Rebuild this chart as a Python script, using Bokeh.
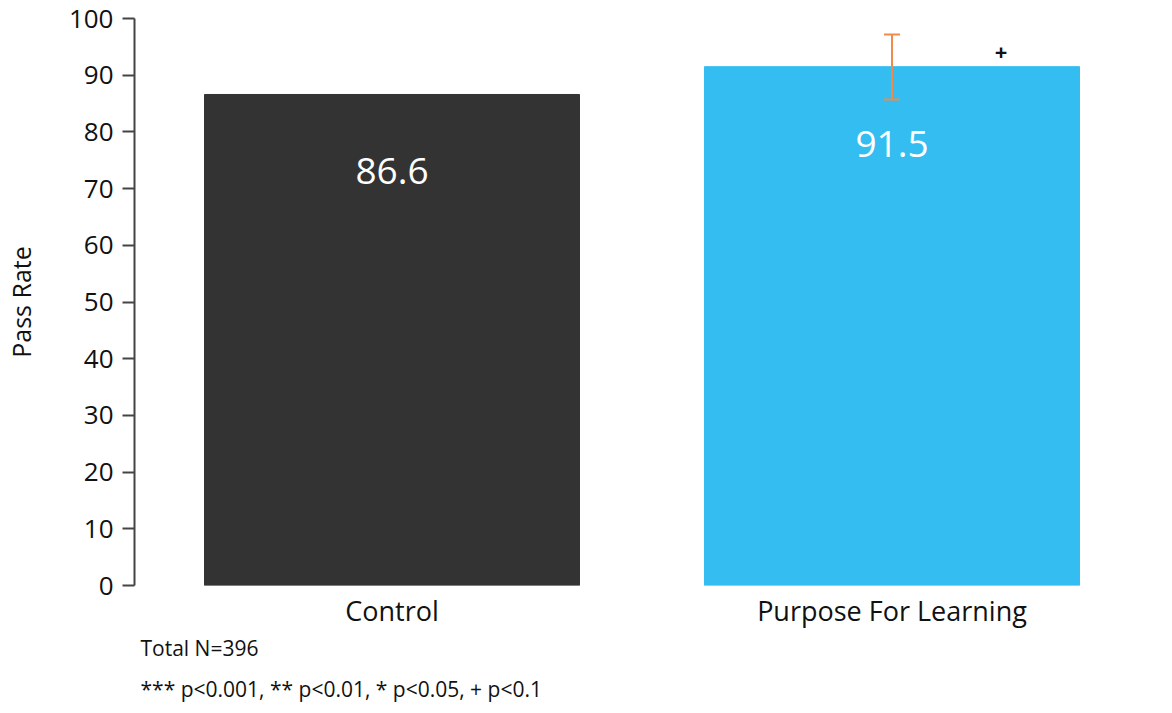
from bokeh.plotting import figure
from bokeh.models import ColumnDataSource, FixedTicker, Whisker, FactorRange, Title
from bokeh.core.properties import value
from bokeh.embed import file_html
from bokeh.resources import INLINE

# --- data ---
groups = ["Control", "Purpose For Learning"]
pass_rate = [86.6, 91.5]
bar_colors = ["#333333", "#33BDF0"]
err_group = ["Purpose For Learning"]
err_lower = [85.7]
err_upper = [97.2]
sig_group = ["Purpose For Learning"]
sig_marks = ["+"]
sig_y = [94.0]
y_ticks = [0, 10, 20, 30, 40, 50, 60, 70, 80, 90, 100]
footnotes = ["Total N=396", "*** p<0.001, ** p<0.01, * p<0.05, + p<0.1"]

FONT = "Open Sans"
INK = "#111111"

p = figure(
    x_range=FactorRange(*groups, range_padding=0.015),
    y_range=(0, 100),
    width=1172, height=713,
    output_backend="svg", toolbar_location=None,
    min_border_left=134, min_border_right=23,
    min_border_top=18, min_border_bottom=8,
)
p.outline_line_color = None
p.grid.grid_line_color = None

src = ColumnDataSource(dict(group=groups, rate=pass_rate, color=bar_colors,
                            label=[f"{v:.1f}" for v in pass_rate]))
p.vbar(x="group", top="rate", width=0.75, color="color", source=src)

# value labels inside the bars
p.text(x="group", y="rate", text="label", source=src, y_offset=77,
       text_align="center", text_baseline="middle", text_color="white",
       text_font=value(FONT), text_font_size="37px")

# error bar
ORANGE = "#F0894A"
err_src = ColumnDataSource(dict(group=err_group, lower=err_lower, upper=err_upper))
wh = Whisker(base="group", lower="lower", upper="upper", source=err_src,
             dimension="height", line_color=ORANGE, line_width=2, level="overlay")
for head in (wh.upper_head, wh.lower_head):
    head.size = 16
    head.line_color = ORANGE
    head.line_width = 2
p.add_layout(wh)

# significance marker
p.text(x=sig_group, y=sig_y, text=sig_marks, x_offset=109,
       text_align="center", text_baseline="middle", text_color=INK,
       text_font=value(FONT), text_font_size="22px", text_font_style="bold")

# y axis
p.yaxis.ticker = FixedTicker(ticks=y_ticks)
p.yaxis.axis_label = "Pass Rate"
p.yaxis.axis_label_text_font = FONT
p.yaxis.axis_label_text_font_size = "25px"
p.yaxis.axis_label_text_font_style = "normal"
p.yaxis.axis_label_text_color = INK
p.yaxis.axis_label_standoff = 28
p.yaxis.major_label_text_font = FONT
p.yaxis.major_label_text_font_size = "26px"
p.yaxis.major_label_text_color = INK
p.yaxis.axis_line_color = "#444444"
p.yaxis.axis_line_width = 2
p.yaxis.major_tick_line_color = "#444444"
p.yaxis.major_tick_line_width = 2
p.yaxis.major_tick_out = 12
p.yaxis.major_tick_in = 0
p.yaxis.minor_tick_line_color = None
p.yaxis.major_label_standoff = 9

# x axis
p.xaxis.axis_line_color = None
p.xaxis.major_tick_line_color = None
p.xaxis.minor_tick_line_color = None
p.xaxis.major_label_text_font = FONT
p.xaxis.major_label_text_font_size = "27px"
p.xaxis.major_label_text_color = INK
p.xaxis.major_label_standoff = 0

# footnotes below the axis
for t, gap in zip(footnotes, [0, 22]):
    p.add_layout(Title(text=t, align="left", offset=6, standoff=gap,
                       text_font=FONT, text_font_size="21px",
                       text_font_style="normal", text_color=INK), "below")

open("out.html", "w").write(file_html(p, INLINE))
